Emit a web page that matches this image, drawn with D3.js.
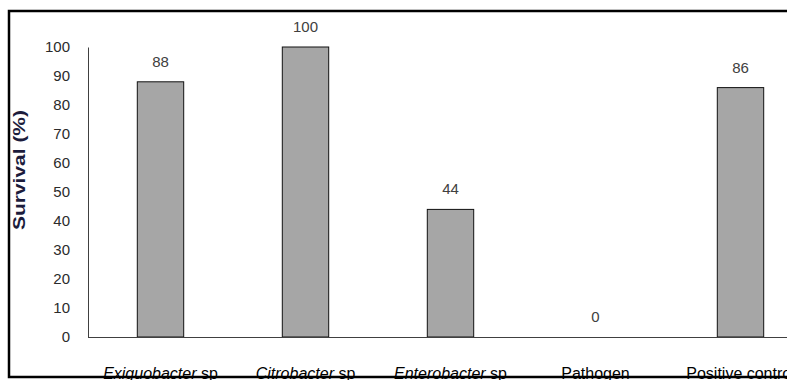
<!DOCTYPE html>
<html>
<head>
<meta charset="utf-8">
<script src="https://cdn.jsdelivr.net/npm/d3@7"></script>
<style>
  html, body { margin: 0; padding: 0; background: #fff; }
  svg { display: block; }
</style>
</head>
<body>
<svg id="chart" width="787" height="380"></svg>
<script>
// Survival (%) per treatment
const genus = ["Exiguobacter", "Citrobacter", "Enterobacter", "Pathogen", "Positive control"];
const italicGenus = [true, true, true, false, false];
const survival = [88, 100, 44, 0, 86];
const yTicks = [0, 10, 20, 30, 40, 50, 60, 70, 80, 90, 100];

const svg = d3.select("#chart");
const W = 787, H = 380;
const x0 = 88, y0 = 337, yTop = 47;

const x = d3.scaleBand()
  .domain(genus)
  .range([x0, x0 + 5 * 145])
  .paddingInner(0.68)
  .paddingOuter(0.34);

const y = d3.scaleLinear().domain([0, 100]).range([y0, yTop]);

const font = "'Liberation Sans', Arial, sans-serif";

// y axis: labels only, plain vertical line
const yAxis = svg.append("g")
  .attr("transform", `translate(${x0},0)`)
  .call(d3.axisLeft(y).tickValues(yTicks).tickSize(0).tickPadding(18).tickFormat(d3.format("d")));
yAxis.select(".domain").attr("stroke", "#404040").attr("stroke-width", 1);
yAxis.selectAll("text")
  .attr("font-family", font)
  .attr("font-size", 15)
  .attr("fill", "#2b2b2b");

// y axis title
svg.append("text")
  .attr("transform", `translate(25,170) rotate(-90)`)
  .attr("text-anchor", "middle")
  .attr("font-family", font)
  .attr("font-weight", "bold")
  .attr("font-size", 16)
  .attr("fill", "#1c1c3c")
  .attr("textLength", 120)
  .attr("lengthAdjust", "spacingAndGlyphs")
  .text("Survival (%)");

// bars
svg.append("g").selectAll("rect")
  .data(survival)
  .join("rect")
  .attr("x", (d, i) => x(genus[i]))
  .attr("y", d => y(d))
  .attr("width", x.bandwidth())
  .attr("height", d => y0 - y(d))
  .attr("fill", "#a6a6a6")
  .attr("stroke", "#111")
  .attr("stroke-width", 1);

// value labels
svg.append("g").selectAll("text")
  .data(survival)
  .join("text")
  .attr("x", (d, i) => x(genus[i]) + x.bandwidth() / 2)
  .attr("y", d => y(d) - 15)
  .attr("text-anchor", "middle")
  .attr("font-family", font)
  .attr("font-size", 15)
  .attr("fill", "#404040")
  .text(d => d);

// x axis line
svg.append("line")
  .attr("x1", x0).attr("x2", W)
  .attr("y1", y0 + 0.5).attr("y2", y0 + 0.5)
  .attr("stroke", "#404040")
  .attr("stroke-width", 1);

// category labels
const cat = svg.append("g").selectAll("text")
  .data(genus)
  .join("text")
  .attr("x", d => x(d) + x.bandwidth() / 2)
  .attr("y", 379)
  .attr("text-anchor", "middle")
  .attr("font-family", font)
  .attr("font-size", 16)
  .attr("fill", "#000");
cat.each(function(d, i) {
  const t = d3.select(this);
  if (italicGenus[i]) {
    t.append("tspan").attr("font-style", "italic").text(d);
    t.append("tspan").text(" sp");
  } else {
    t.text(d);
  }
});

// frame
svg.append("path")
  .attr("d", `M${W + 5},11 H9 V377 H${W + 5}`)
  .attr("fill", "none")
  .attr("stroke", "#000")
  .attr("stroke-width", 2.5);
</script>
</body>
</html>
